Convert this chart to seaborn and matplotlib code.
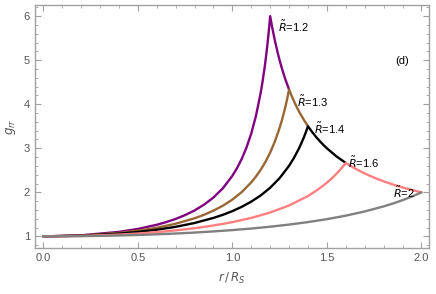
import numpy as np
import pandas as pd
import matplotlib
matplotlib.use("Agg")
import matplotlib.pyplot as plt
import seaborn as sns
from matplotlib.ticker import MultipleLocator

# interior branches (r / R_S, g_rr)
r_12 = [0.0, 0.2, 0.4, 0.5, 0.6, 0.65, 0.7, 0.75, 0.8, 0.85, 0.9, 0.95, 1.0, 1.025, 1.05,
        1.075, 1.1, 1.125, 1.15, 1.16, 1.17, 1.175, 1.18, 1.185, 1.19, 1.195, 1.2]
g_12 = [1.0, 1.024, 1.102, 1.169, 1.263, 1.324, 1.396, 1.483, 1.588, 1.719, 1.882, 2.093, 2.374,
        2.551, 2.762, 3.019, 3.336, 3.737, 4.261, 4.519, 4.812, 4.975, 5.149, 5.337, 5.54, 5.76, 6.0]

r_13 = [0.0, 0.2, 0.4, 0.5, 0.6, 0.7, 0.8, 0.85, 0.9, 0.95, 1.0, 1.05, 1.1, 1.125, 1.15, 1.175,
        1.2, 1.225, 1.25, 1.26, 1.275, 1.285, 1.29, 1.295, 1.3]
g_13 = [1.0, 1.019, 1.079, 1.128, 1.196, 1.287, 1.411, 1.490, 1.584, 1.697, 1.835, 2.007, 2.226,
        2.359, 2.512, 2.691, 2.902, 3.155, 3.463, 3.605, 3.845, 4.026, 4.122, 4.225, 4.333]

r_14 = [0.0, 0.2, 0.4, 0.5, 0.6, 0.7, 0.8, 0.9, 0.95, 1.0, 1.05, 1.1, 1.15, 1.2, 1.25, 1.3,
        1.325, 1.35, 1.36, 1.375, 1.385, 1.39, 1.395, 1.4]
g_14 = [1.0, 1.015, 1.062, 1.100, 1.151, 1.217, 1.304, 1.419, 1.490, 1.573, 1.672, 1.789, 1.930,
        2.104, 2.322, 2.603, 2.776, 2.978, 3.068, 3.215, 3.323, 3.380, 3.439, 3.5]

r_16 = [0.0, 0.2, 0.4, 0.5, 0.6, 0.7, 0.8, 0.9, 1.0, 1.1, 1.2, 1.3, 1.4, 1.45, 1.5, 1.525,
        1.55, 1.575, 1.59, 1.6]
g_16 = [1.0, 1.010, 1.041, 1.065, 1.096, 1.136, 1.185, 1.247, 1.323, 1.419, 1.542, 1.702, 1.917,
        2.055, 2.219, 2.314, 2.419, 2.536, 2.612, 2.667]

r_20 = [0.0, 0.2, 0.4, 0.5, 0.6, 0.7, 0.8, 0.9, 1.0, 1.1, 1.2, 1.3, 1.4, 1.5, 1.6, 1.7, 1.8,
        1.85, 1.9, 1.95, 2.0]
g_20 = [1.0, 1.005, 1.020, 1.032, 1.047, 1.065, 1.087, 1.113, 1.143, 1.178, 1.220, 1.268, 1.325,
        1.391, 1.471, 1.566, 1.681, 1.748, 1.822, 1.906, 2.0]

# exterior envelope shared by all curves
r_ext = [1.2, 1.21, 1.225, 1.24, 1.25, 1.26, 1.275, 1.28, 1.3, 1.32, 1.34, 1.35, 1.36, 1.38, 1.4,
         1.42, 1.44, 1.45, 1.46, 1.48, 1.5, 1.55, 1.6, 1.65, 1.7, 1.75, 1.8, 1.85, 1.9, 1.95, 2.0]
g_ext = [6.0, 5.762, 5.444, 5.167, 5.0, 4.846, 4.636, 4.571, 4.333, 4.125, 3.941, 3.857, 3.778,
         3.632, 3.5, 3.381, 3.273, 3.222, 3.174, 3.083, 3.0, 2.818, 2.667, 2.538, 2.429, 2.333,
         2.25, 2.176, 2.111, 2.053, 2.0]

radii = [1.2, 1.3, 1.4, 1.6, 2.0]
labels = ["1.2", "1.3", "1.4", "1.6", "2"]
colors = ["#800080", "#996633", "#000000", "#ff8080", "#808080"]
interiors = [(r_12, g_12), (r_13, g_13), (r_14, g_14), (r_16, g_16), (r_20, g_20)]

rows = []
for i, (R, lab, (ri, gi)) in enumerate(zip(radii, labels, interiors)):
    # outside the star each curve runs on until the next one takes over
    r_end = radii[i + 1] if i + 1 < len(radii) else R
    rs = list(ri) + [x for x in r_ext if R + 1e-9 < x <= r_end + 1e-9]
    gs = list(gi) + [g for x, g in zip(r_ext, g_ext) if R + 1e-9 < x <= r_end + 1e-9]
    for x, y in zip(rs, gs):
        rows.append({"R": lab, "r": x, "g": y})
df = pd.DataFrame(rows)

sns.set_theme(style="ticks")
plt.rcParams["font.family"] = ["Liberation Sans", "DejaVu Sans"]
plt.rcParams["mathtext.fontset"] = "dejavusans"

fig = plt.figure(figsize=(4.36, 2.94), dpi=100)
ax = fig.add_axes([0.080, 0.157, 0.904, 0.827])

for lab, col in zip(labels, colors):
    sub = df[df["R"] == lab]
    sns.lineplot(data=sub, x="r", y="g", ax=ax, color=col, lw=1.7,
                 sort=False, estimator=None)

ax.set_xlim(-0.044, 2.04)
ax.set_ylim(0.74, 6.26)
ax.xaxis.set_major_locator(MultipleLocator(0.5))
ax.xaxis.set_minor_locator(MultipleLocator(0.1))
ax.yaxis.set_major_locator(MultipleLocator(1))
ax.yaxis.set_minor_locator(MultipleLocator(0.2))
ax.set_xticks([0, 0.5, 1.0, 1.5, 2.0])
ax.set_xticklabels(["0.0", "0.5", "1.0", "1.5", "2.0"])

frame = "#a0a0a0"
for sp in ax.spines.values():
    sp.set_color(frame)
    sp.set_linewidth(1.0)
ax.tick_params(which="both", direction="in", top=True, right=True,
               color=frame, labelcolor="#555555", labelsize=8)
ax.tick_params(which="major", length=4, width=0.8)
ax.tick_params(which="minor", length=2, width=0.6)

ax.set_xlabel(r"$r\,/\,R_S$", color="#555555", fontsize=8.5, labelpad=6)
ax.set_ylabel(r"$g_{rr}$", color="#555555", fontsize=8.5, labelpad=4)

# curve labels
lab_pos = [(1.24, 5.76), (1.342, 4.07), (1.432, 3.46), (1.612, 2.67), (1.849, 1.99)]
for lab, (x, y) in zip(labels, lab_pos):
    ax.text(x, y, r"$\tilde{R}$=" + lab, fontsize=8, ha="left", va="center", color="black")
ax.text(1.898, 4.98, "(d)", fontsize=8, ha="center", va="center", color="black")

fig.savefig("out.png", dpi=100)
